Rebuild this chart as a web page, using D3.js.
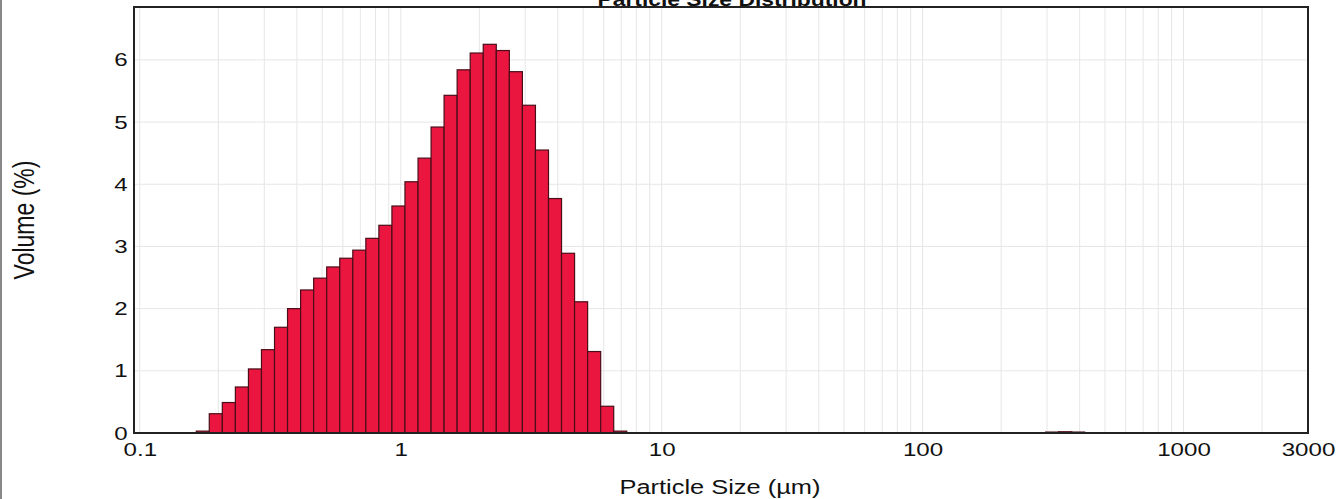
<!DOCTYPE html>
<head>
<meta charset="utf-8">
<script src="https://d3js.org/d3.v7.min.js"></script>
<style>
body { margin:0; background:#fff; }
svg { display:block; font-family: Arial, "Liberation Sans", sans-serif; }
.grid line { stroke:#e6e6e6; stroke-width:1; }
.bar { fill:#ea1640; stroke:#4a0d18; stroke-width:1.2; }
.axis text { font-size:19px; fill:#111; }
.label { font-size:20px; fill:#111; }
</style>
</head>
<body>
<svg id="chart" width="1341" height="499"></svg>
<script>

// bin edges (um) and volume % per bin
var binEdges = [0.1646, 0.1846, 0.2071, 0.2324, 0.2608, 0.2926, 0.3283, 0.3683, 0.4133,
	0.4637, 0.5203, 0.5838, 0.6550, 0.7349, 0.8246, 0.9252, 1.038, 1.165, 1.307, 1.466,
	1.645, 1.846, 2.071, 2.324, 2.608, 2.926, 3.283, 3.684, 4.133, 4.637, 5.203, 5.838,
	6.550, 7.349];
var volume = [0.03, 0.31, 0.49, 0.74, 1.03, 1.34, 1.70, 2.00, 2.30, 2.49, 2.67, 2.81,
	2.94, 3.13, 3.34, 3.65, 4.04, 4.42, 4.92, 5.43, 5.84, 6.11, 6.25, 6.15, 5.81, 5.27,
	4.55, 3.77, 2.89, 2.11, 1.31, 0.43, 0.03];

// small coarse tail near the baseline
var tailEdges = [296, 332, 373, 418];
var tailVolume = [0.015, 0.02, 0.015];

var xTicks = [0.1, 1, 10, 100, 1000, 3000];
var yTicks = [0, 1, 2, 3, 4, 5, 6];
var xDomain = [0.095, 3000];
var yDomain = [0, 6.85];

var sx = 1.27; // picture is stretched sideways

var svg = d3.select("#chart");

var x = d3.scaleLog().domain(xDomain).range([134, 1308]);
var y = d3.scaleLinear().domain(yDomain).range([433, 7]);

// grid
var minor = [];
[0.1, 1, 10, 100, 1000].forEach(function(dec) {
	for (var m = 1; m < 10; m++) {
		var v = dec * m;
		if (v > xDomain[0] && v < xDomain[1]) minor.push(v);
	}
});

var grid = svg.append("g").attr("class", "grid");
grid.selectAll(".vg").data(minor).enter().append("line")
	.attr("x1", d => x(d)).attr("x2", d => x(d))
	.attr("y1", y.range()[1]).attr("y2", y.range()[0]);
grid.selectAll(".hg").data(yTicks.slice(1)).enter().append("line")
	.attr("x1", x.range()[0]).attr("x2", x.range()[1])
	.attr("y1", d => y(d)).attr("y2", d => y(d));

// bars
var bins = volume.map((v, i) => ({x0: binEdges[i], x1: binEdges[i + 1], v: v}))
	.concat(tailVolume.map((v, i) => ({x0: tailEdges[i], x1: tailEdges[i + 1], v: v})));

svg.append("g").selectAll("rect").data(bins).enter().append("rect")
	.attr("class", "bar")
	.attr("x", d => x(d.x0))
	.attr("width", d => x(d.x1) - x(d.x0))
	.attr("y", d => y(d.v))
	.attr("height", d => y(0) - y(d.v));

// frame
svg.append("rect")
	.attr("x", x.range()[0]).attr("y", y.range()[1])
	.attr("width", x.range()[1] - x.range()[0])
	.attr("height", y.range()[0] - y.range()[1])
	.attr("fill", "none").attr("stroke", "#222").attr("stroke-width", 2);

// axes
svg.append("g")
	.attr("class", "axis")
	.attr("transform", "translate(0," + y(0) + ")")
	.call(d3.axisBottom(x).tickValues(xTicks).tickFormat(d => String(d)).tickSize(0).tickPadding(10))
	.call(g => g.select(".domain").remove())
	.selectAll("text")
	.attr("transform", "scale(" + sx + ",1)");

svg.append("g")
	.attr("class", "axis")
	.attr("transform", "translate(" + x.range()[0] + ",0)")
	.call(d3.axisLeft(y).tickValues(yTicks).tickFormat(d3.format("d")).tickSize(0).tickPadding(5))
	.call(g => g.select(".domain").remove())
	.selectAll("text")
	.attr("transform", "scale(" + sx + ",1)");

// labels
svg.append("text")
	.attr("class", "label")
	.attr("text-anchor", "middle")
	.attr("transform", "translate(720,494) scale(" + sx + ",1)")
	.text("Particle Size (µm)");

svg.append("text")
	.attr("class", "label")
	.attr("text-anchor", "middle")
	.style("font-size", "23px")
	.attr("transform", "translate(34,220) scale(" + sx + ",1) rotate(-90)")
	.text("Volume (%)");

svg.append("text")
	.attr("text-anchor", "middle")
	.style("font-size", "18px")
	.attr("font-weight", "bold")
	.attr("fill", "#111")
	.attr("transform", "translate(732,6) scale(" + sx + ",1)")
	.text("Particle Size Distribution");

// scan edge on the left
svg.append("rect").attr("x", 0).attr("y", 0).attr("width", 2).attr("height", 499).attr("fill", "#888");

</script>
</body>
